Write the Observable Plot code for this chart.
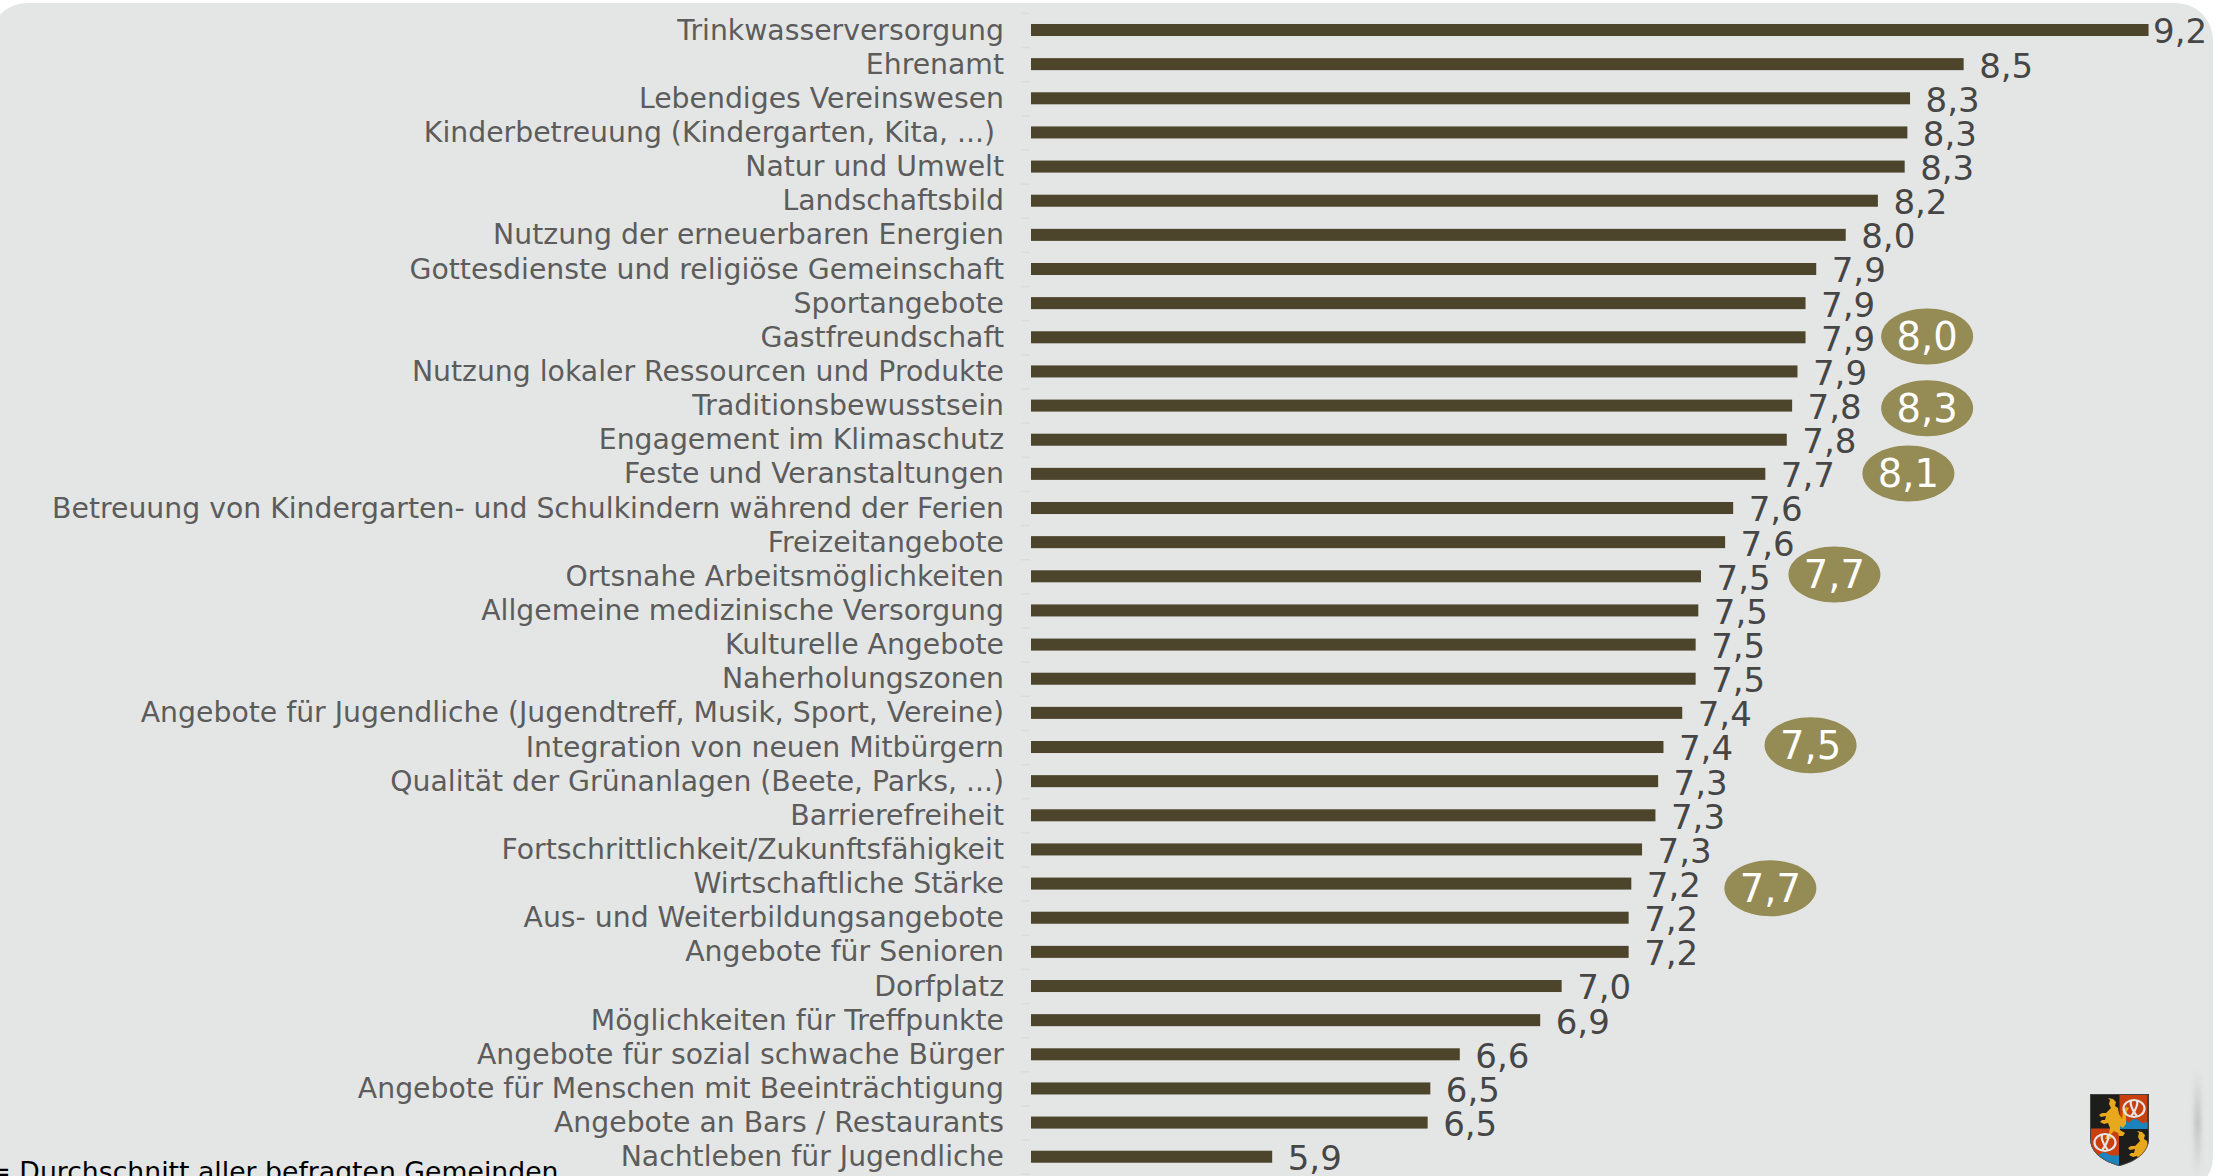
<!DOCTYPE html>
<html lang="de">
<head>
<meta charset="utf-8">
<script src="https://cdn.jsdelivr.net/npm/d3@7"></script>
<script src="https://cdn.jsdelivr.net/npm/@observablehq/plot@0.6"></script>
<style>
html,body{margin:0;padding:0;background:#fff;width:2223px;height:1176px;overflow:hidden}
#panel{position:absolute;left:-10px;top:3px;width:2223px;height:1191px;border-radius:37px;background:#E4E6E5}
#shade{position:absolute;left:2194px;top:1070px;width:7px;height:106px;filter:blur(2px);background:linear-gradient(to bottom,rgba(190,192,191,0),rgba(190,192,191,.9) 50%,rgba(190,192,191,0))}
#chart{position:absolute;left:0;top:0}
#chart svg{background:transparent;display:block}
#logo{position:absolute;left:2090px;top:1094px}
</style>
</head>
<body>
<div id="panel"></div>
<div id="shade"></div>
<div id="chart"></div>
<svg id="logo" width="59" height="72" viewBox="0 0 59 72" xmlns="http://www.w3.org/2000/svg">
  <defs>
    <clipPath id="sh"><path d="M0 0H59V44C59 60 44 68 29.5 72C15 68 0 60 0 44Z"/></clipPath>
    <g id="lion"><path fill="#E8A81C" d="M17 2l5 1 3 3-1 4 3 2 1 6 3 5 1-8 3-4 3 1-2 3-1 6 0 7-3 4-3-2 0 4 5 3-2 3-4 0-1-3-4-2-3 3 2 3-3 2-5 0 1-3 3-2 1-6-2-5-4 1-4-2 2-2 3 0 1-4-5 1-2-2 3-2 4 0 5-5-2-4 1-4z"/></g>
    <g id="pretzel" fill="none" stroke="#E6E6E6" stroke-width="2.2"><ellipse cx="14" cy="11.5" rx="10.5" ry="8.5"/><path d="M11 3.5C9 9 14 15 17 19.5M17 3.5C19 9 14 15 11 19.5"/></g>
  </defs>
  <g clip-path="url(#sh)">
    <rect width="59" height="72" fill="#1D1D1B"/>
    <rect x="29.5" y="1" width="28" height="34" fill="#C9400F"/>
    <rect x="1" y="34.5" width="28" height="37" fill="#C9400F"/>
    <path fill="#1A84BE" d="M29.5 35V29c3-3 6-3 8-1 2 2 4-4 8-3 4 0 4 4 7 4l5-1V35Z"/>
    <path fill="#1A84BE" d="M1 72V62c2 1 5 1 8-1 3-3 6-3 9-1 3 2 5 2 11 1V72Z"/>
    <use href="#lion" x="1" y="2"/>
    <use href="#lion" x="30" y="35"/>
    <use href="#pretzel" x="30" y="3"/>
    <use href="#pretzel" x="1" y="37"/>
  </g>
  <path fill="none" stroke="#555" stroke-width=".8" d="M.4 .4H58.6V44C58.6 60 44 67.6 29.5 71.6C15 67.6 .4 60 .4 44Z"/>
</svg>
<script>
const categories = [
  "Trinkwasserversorgung","Ehrenamt","Lebendiges Vereinswesen","Kinderbetreuung (Kindergarten, Kita, ...) ",
  "Natur und Umwelt","Landschaftsbild","Nutzung der erneuerbaren Energien","Gottesdienste und religiöse Gemeinschaft",
  "Sportangebote","Gastfreundschaft","Nutzung lokaler Ressourcen und Produkte","Traditionsbewusstsein",
  "Engagement im Klimaschutz","Feste und Veranstaltungen","Betreuung von Kindergarten- und Schulkindern während der Ferien",
  "Freizeitangebote","Ortsnahe Arbeitsmöglichkeiten","Allgemeine medizinische Versorgung","Kulturelle Angebote",
  "Naherholungszonen","Angebote für Jugendliche (Jugendtreff, Musik, Sport, Vereine)","Integration von neuen Mitbürgern",
  "Qualität der Grünanlagen (Beete, Parks, ...)","Barrierefreiheit","Fortschrittlichkeit/Zukunftsfähigkeit",
  "Wirtschaftliche Stärke","Aus- und Weiterbildungsangebote","Angebote für Senioren","Dorfplatz",
  "Möglichkeiten für Treffpunkte","Angebote für sozial schwache Bürger","Angebote für Menschen mit Beeinträchtigung",
  "Angebote an Bars / Restaurants","Nachtleben für Jugendliche"
];
const scores = [9.17,8.48,8.28,8.27,8.26,8.16,8.04,7.93,7.89,7.89,7.86,7.84,7.82,7.74,7.62,7.59,7.50,7.49,7.48,7.48,7.43,7.36,7.34,7.33,7.28,7.24,7.23,7.23,6.98,6.90,6.60,6.49,6.48,5.90];
const averageRows = ["Gastfreundschaft","Traditionsbewusstsein","Feste und Veranstaltungen","Ortsnahe Arbeitsmöglichkeiten","Integration von neuen Mitbürgern","Wirtschaftliche Stärke"];
const averageValues = [8.0,8.3,8.1,7.7,7.5,7.7];
const caption = "= Durchschnitt aller befragten Gemeinden";

const rows = categories.map((c,i)=>({c, v:scores[i]}));
const fmt = v => d3.format(".1f")(v).replace(".",",");
const FONT = "DejaVu Sans, Verdana, sans-serif";
const bubbleX = [8.342,8.342,8.272,7.996,7.907,7.757];   // horizontal position on the x scale
const bubbleDy = [-1.3,2.2,-0.8,-2.2,-2.3,4.2];
const ellipse = {draw(ctx){
  const rx=46, ry=28, k=0.5523;
  ctx.moveTo(-rx,0);
  ctx.bezierCurveTo(-rx,-k*ry,-k*rx,-ry,0,-ry);
  ctx.bezierCurveTo(k*rx,-ry,rx,-k*ry,rx,0);
  ctx.bezierCurveTo(rx,k*ry,k*rx,ry,0,ry);
  ctx.bezierCurveTo(-k*rx,ry,-rx,k*ry,-rx,0);
  ctx.closePath();
}};
const AX = "#DBDDDC";
const bubbleMarks = averageRows.flatMap((r,i)=>[
  Plot.dot([r],{x:()=>bubbleX[i],y:d=>d,symbol:ellipse,r:10,fill:"#958B55",stroke:"none",dy:bubbleDy[i]}),
  Plot.text([r],{x:()=>bubbleX[i],y:d=>d,text:()=>fmt(averageValues[i]),fill:"#fff",fontSize:38.5,fontFamily:FONT,dy:bubbleDy[i]+1})
]);
const plot = Plot.plot({
  width:2223, height:1176,
  marginLeft:1031, marginRight:39.6, marginTop:12.93, marginBottom:2.2,
  style:{background:"transparent",overflow:"visible"},
  x:{domain:[5,9.3],axis:null},
  y:{domain:categories,round:false,paddingInner:0.648,paddingOuter:0.324,align:0.5,axis:null},
  marks:[
    Plot.ruleX([5],{dx:-1,stroke:AX,strokeWidth:2,y1:null}),
    Plot.ruleY(categories,{y:d=>d,x1:4.966,x2:5,dx:-1,dy:-17.07,stroke:AX,strokeWidth:1.5}),
    Plot.ruleY(categories.slice(-1),{y:d=>d,x1:4.966,x2:5,dx:-1,dy:17.07,stroke:AX,strokeWidth:1.5}),
    Plot.barX(rows,{x1:()=>5,x2:"v",y:"c",fill:"#4C452C"}),
    Plot.text(rows,{x:()=>5,y:"c",text:"c",textAnchor:"end",dx:-27.5,fill:"#5C5C5C",fontSize:28.3,fontFamily:FONT}),
    Plot.text(rows.slice(1),{x:"v",y:"c",text:d=>fmt(d.v),textAnchor:"start",dx:15,dy:2,fill:"#464646",fontSize:34,fontFamily:FONT}),
    Plot.text(rows.slice(0,1),{x:"v",y:"c",text:d=>fmt(d.v),textAnchor:"start",dx:4,dy:2,fill:"#464646",fontSize:34,fontFamily:FONT}),
    ...bubbleMarks,
    Plot.text([caption],{frameAnchor:"bottom-left",text:d=>d,textAnchor:"start",lineAnchor:"bottom",dx:-1043,dy:7,fill:"#000",fontSize:26.7,fontFamily:FONT})
  ]
});
document.getElementById("chart").appendChild(plot);
</script>
</body>
</html>
